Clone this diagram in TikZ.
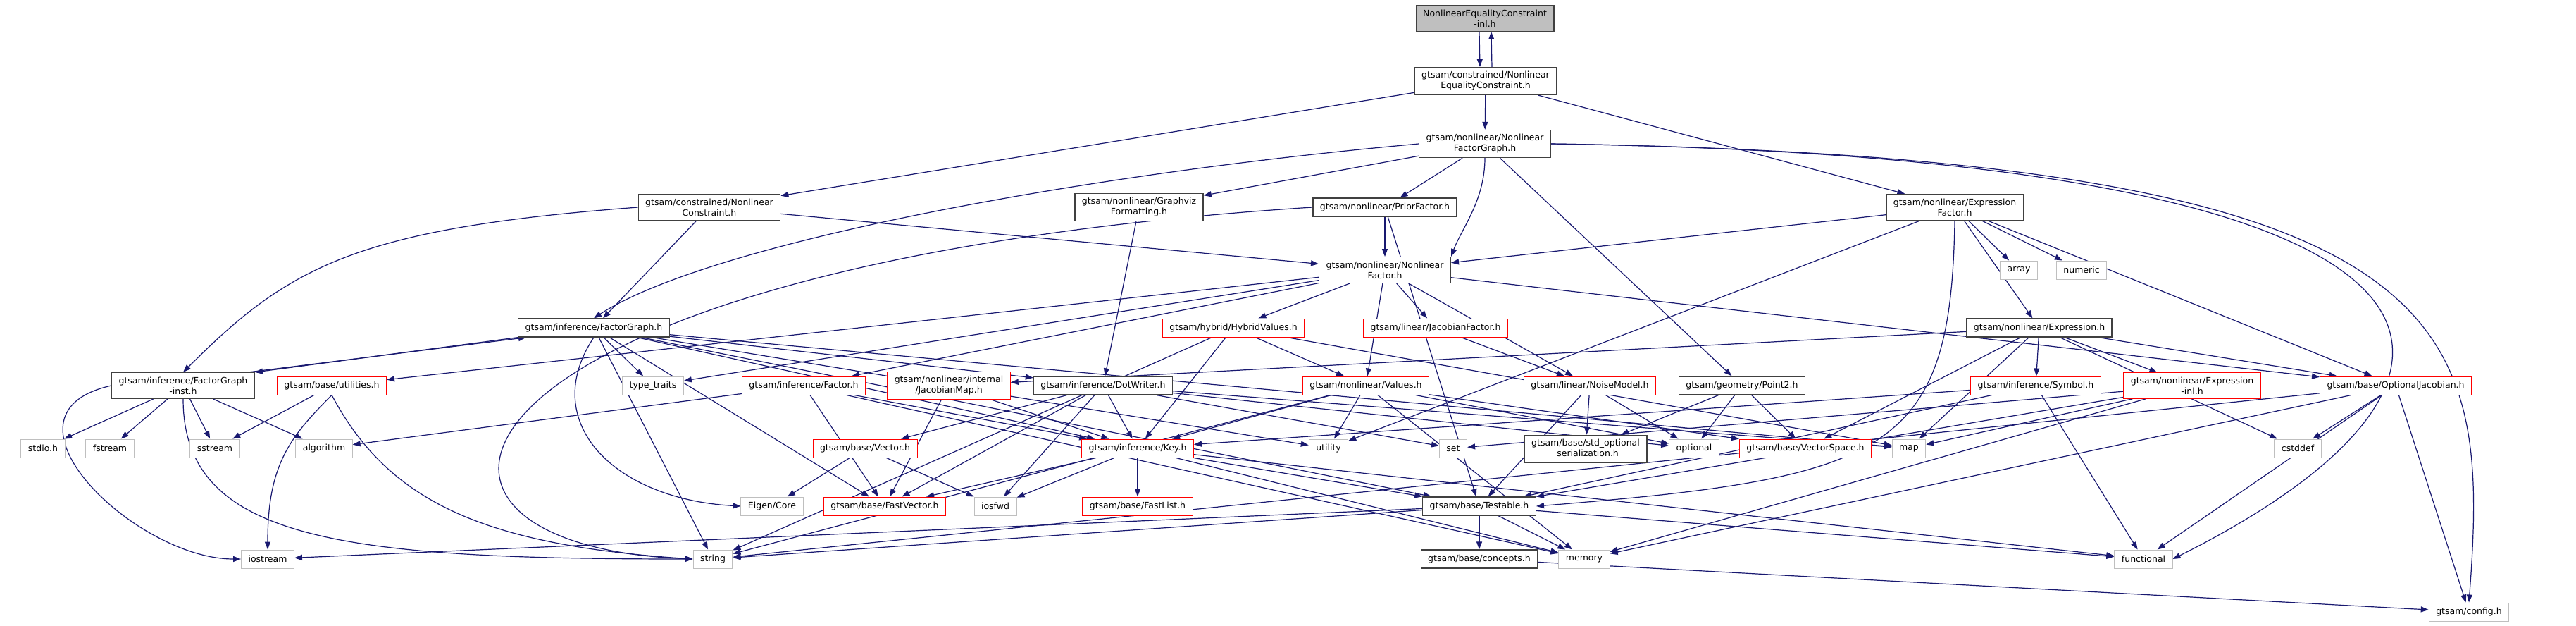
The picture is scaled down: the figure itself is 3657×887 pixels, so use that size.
\documentclass[tikz,border=0pt]{standalone}
\usepackage{fontspec}
\setmainfont{DejaVu Sans}
\usetikzlibrary{arrows.meta,backgrounds}
\definecolor{edgeblue}{HTML}{191970}
\definecolor{boxblack}{HTML}{404040}
\definecolor{boxgray}{HTML}{BFBFBF}
\definecolor{boxred}{HTML}{FF0000}
\tikzset{
  file/.style={draw=boxblack, fill=white, line width=1.3pt, inner xsep=10pt, inner ysep=6pt,
    minimum height=26pt, align=center, font=\fontsize{12.5}{15}\selectfont},
  trunc/.style={file, draw=boxred, line width=1pt},
  sys/.style={file, draw=boxgray, line width=1pt},
  focus/.style={file, fill=boxgray},
  dep/.style={draw=edgeblue, line width=1.2pt, -{Triangle[length=11pt,width=8pt]}}
}
\begin{document}
\begin{tikzpicture}[x=1pt, y=-1pt]
    \useasboundingbox (0,0) rectangle (3657,887);

    % Draw the file itself and its direct includes
    \node[focus] (root) at (2108, 26) {NonlinearEqualityConstraint\\-inl.h};
    \node[file] (nech) at (2109, 115) {gtsam/constrained/Nonlinear\\EqualityConstraint.h};
    \node[file] (nlfg) at (2108, 204) {gtsam/nonlinear/Nonlinear\\FactorGraph.h};

    % Draw nodes for the third row
    \node[file] (nc) at (1007, 294) {gtsam/constrained/Nonlinear\\Constraint.h};
    \node[file] (gviz) at (1617, 294) {gtsam/nonlinear/Graphviz\\Formatting.h};
    \node[file] (prior) at (1966, 294) {gtsam/nonlinear/PriorFactor.h};
    \node[file] (exprf) at (2775, 294) {gtsam/nonlinear/Expression\\Factor.h};
    \node[file] (nlf) at (1966, 383) {gtsam/nonlinear/Nonlinear\\Factor.h};
    \node[sys] (array) at (2866, 383) {array};
    \node[sys] (numeric) at (2955, 383) {numeric};

    % Draw nodes for the middle rows
    \node[file] (fg) at (843, 465) {gtsam/inference/FactorGraph.h};
    \node[trunc] (hybv) at (1751, 465) {gtsam/hybrid/HybridValues.h};
    \node[trunc] (jacf) at (2038, 465) {gtsam/linear/JacobianFactor.h};
    \node[file] (expr) at (2895, 465) {gtsam/nonlinear/Expression.h};

    \node[file] (fginst) at (260, 547) {gtsam/inference/FactorGraph\\-inst.h};
    \node[trunc] (util) at (471, 547) {gtsam/base/utilities.h};
    \node[sys] (typetr) at (927, 547) {type\_traits};
    \node[trunc] (factor) at (1141, 547) {gtsam/inference/Factor.h};
    \node[trunc] (jmap) at (1347, 547) {gtsam/nonlinear/internal\\/JacobianMap.h};
    \node[file] (dotw) at (1566, 547) {gtsam/inference/DotWriter.h};
    \node[trunc] (values) at (1939, 547) {gtsam/nonlinear/Values.h};
    \node[trunc] (noise) at (2257, 547) {gtsam/linear/NoiseModel.h};
    \node[file] (pt2) at (2473, 547) {gtsam/geometry/Point2.h};
    \node[trunc] (symbol) at (2890, 547) {gtsam/inference/Symbol.h};
    \node[trunc] (exprinl) at (3112, 547) {gtsam/nonlinear/Expression\\-inl.h};
    \node[trunc] (optjac) at (3401, 547) {gtsam/base/OptionalJacobian.h};

    % Draw nodes for the lower rows
    \node[sys] (stdio) at (61, 636) {stdio.h};
    \node[sys] (fstream) at (156, 636) {fstream};
    \node[sys] (sstream) at (305, 636) {sstream};
    \node[sys] (algo) at (460, 636) {algorithm};
    \node[trunc] (vector) at (1228, 636) {gtsam/base/Vector.h};
    \node[trunc] (key) at (1615, 636) {gtsam/inference/Key.h};
    \node[sys] (utility) at (1886, 636) {utility};
    \node[sys] (set) at (2063, 636) {set};
    \node[file] (stdopt) at (2251, 637) {gtsam/base/std\_optional\\\_serialization.h};
    \node[sys] (optional) at (2405, 636) {optional};
    \node[trunc] (vspace) at (2563, 636) {gtsam/base/VectorSpace.h};
    \node[sys] (map) at (2710, 636) {map};
    \node[sys] (cstddef) at (3262, 636) {cstddef};

    \node[sys] (eigen) at (1096, 718) {Eigen/Core};
    \node[trunc] (fastvec) at (1256, 718) {gtsam/base/FastVector.h};
    \node[sys] (iosfwd) at (1413, 718) {iosfwd};
    \node[trunc] (fastlist) at (1615, 718) {gtsam/base/FastList.h};
    \node[file] (testable) at (2100, 718) {gtsam/base/Testable.h};

    \node[sys] (iostream) at (380, 793) {iostream};
    \node[sys] (string) at (1012, 793) {string};
    \node[file] (concepts) at (2100, 793) {gtsam/base/concepts.h};
    \node[sys] (memory) at (2249, 793) {memory};
    \node[sys] (functional) at (3043, 793) {functional};
    \node[sys] (config) at (3505, 868) {gtsam/config.h};

    \begin{pgfonlayer}{background}
    % Draw edges from the top files
    \draw[dep] ([xshift=-8pt]root.south) -- ([xshift=-8pt]nech.north);
    \draw[dep] ([xshift=9pt]nech.north) -- ([xshift=9pt]root.south);
    \draw[dep] (nech) -- (nc);
    \draw[dep] (nech) -- (nlfg);
    \draw[dep] (nech) -- (exprf);
    \draw[dep] (nlfg.west) .. controls +(-511,46) and +(157,-102) .. (fg.north);
    \draw[dep] (nlfg) -- (gviz);
    \draw[dep] (nlfg) -- (prior);
    \draw[dep] (nlfg.south) .. controls +(0,60) and +(15,-40) .. (nlf.north east);
    \draw[dep] (nlfg) -- (pt2);
    \draw[dep] (nlfg.east) .. controls +(1400,20) and +(500,-250) .. (functional.east);
    \draw[dep] (nlfg.east) .. controls +(1300,20) and +(30,-400) .. (config.north);

    % Draw edges of the third row
    \draw[dep] (nc) -- (fg);
    \draw[dep] (nc.west) .. controls +(-400,30) and +(150,-150) .. (fginst.north);
    \draw[dep] (nc) -- (nlf);
    \draw[dep] (gviz) -- (dotw);
    \draw[dep] (prior) -- (nlf);
    \draw[dep] (prior.west) .. controls +(-1250,80) and +(-500,-20) .. (string.west);
    \draw[dep] (prior) -- (testable);
    \draw[dep] (exprf) -- (nlf);
    \draw[dep] (exprf) -- (expr);
    \draw[dep] (exprf) -- (array);
    \draw[dep] (exprf) -- (numeric);
    \draw[dep] (exprf) -- (utility);
    \draw[dep] (exprf.south) .. controls +(-5,330) and +(500,-40) .. (testable.east);
    \draw[dep] (exprf) -- (optjac);
    \draw[dep] (nlf) -- (factor);
    \draw[dep] (nlf) -- (util);
    \draw[dep] (nlf) -- (typetr);
    \draw[dep] (nlf) -- (hybv);
    \draw[dep] (nlf) -- (values);
    \draw[dep] (nlf) -- (jacf);
    \draw[dep] (nlf) -- (noise);
    \draw[dep] (nlf) -- (optjac);

    % Draw edges of the middle rows
    \draw[dep] (fg.south west) -- (fginst.north east);
    \draw[dep] ([xshift=-10pt]fginst.north east) -- ([xshift=12pt]fg.south west);
    \draw[dep] (fg) -- (typetr);
    \draw[dep] (fg) -- (dotw);
    \draw[dep] (fg) -- (key);
    \draw[dep] (fg) -- (fastvec);
    \draw[dep] (fg) -- (testable);
    \draw[dep] (fg.south) .. controls +(-80,120) and +(-180,-10) .. (eigen.west);
    \draw[dep] (fg) -- (string);
    \draw[dep] (fg) -- (utility);
    \draw[dep] (fg) -- (map);
    \draw[dep] (hybv) -- (values);
    \draw[dep] (hybv) -- (key);
    \draw[dep] (hybv) -- (map);
    \draw[dep] (hybv) -- (string);
    \draw[dep] (jacf) -- (noise);
    \draw[dep] (expr) -- (symbol);
    \draw[dep] (expr) -- (exprinl);
    \draw[dep] (expr) -- (optjac);
    \draw[dep] (expr) -- (cstddef);
    \draw[dep] (expr) -- (map);
    \draw[dep] (expr) -- (vspace);
    \draw[dep] (expr) -- (jmap);

    \draw[dep] (fginst) -- (stdio);
    \draw[dep] (fginst) -- (fstream);
    \draw[dep] (fginst) -- (sstream);
    \draw[dep] (fginst) -- (algo);
    \draw[dep] (fginst.west) .. controls +(-180,40) and +(-150,0) .. (iostream.west);
    \draw[dep] (fginst.south) .. controls +(0,200) and +(-500,0) .. (string.west);
    \draw[dep] (util) -- (sstream);
    \draw[dep] (util.south) .. controls +(-60,60) and +(0,-120) .. (iostream.north);
    \draw[dep] (util.south) .. controls +(80,150) and +(-300,-20) .. (string.west);
    \draw[dep] (factor) -- (algo);
    \draw[dep] (factor) -- (key);
    \draw[dep] (factor) -- (fastvec);
    \draw[dep] (factor) -- (memory);
    \draw[dep] (jmap) -- (key);
    \draw[dep] (jmap) -- (fastvec);
    \draw[dep] (dotw) -- (vector);
    \draw[dep] (dotw) -- (key);
    \draw[dep] (dotw) -- (fastvec);
    \draw[dep] (dotw) -- (iosfwd);
    \draw[dep] (dotw) -- (set);
    \draw[dep] (dotw) -- (optional);
    \draw[dep] (dotw) -- (map);
    \draw[dep] (values) -- (key);
    \draw[dep] (values) -- (utility);
    \draw[dep] (values) -- (string);
    \draw[dep] (values) -- (memory);
    \draw[dep] (values) -- (optional);
    \draw[dep] (values) -- (vspace);
    \draw[dep] (noise) -- (testable);
    \draw[dep] (noise) -- (stdopt);
    \draw[dep] (noise) -- (optional);
    \draw[dep] (pt2) -- (stdopt);
    \draw[dep] (pt2) -- (optional);
    \draw[dep] (pt2) -- (vspace);
    \draw[dep] (symbol) -- (key);
    \draw[dep] (symbol) -- (functional);
    \draw[dep] (symbol) -- (testable);
    \draw[dep] (exprinl) -- (map);
    \draw[dep] (exprinl) -- (memory);
    \draw[dep] (exprinl) -- (set);
    \draw[dep] (exprinl) -- (testable);
    \draw[dep] (optjac) -- (cstddef);
    \draw[dep] (optjac) -- (functional);
    \draw[dep] (optjac) -- (config);
    \draw[dep] (optjac) -- (memory);
    \draw[dep] (optjac) -- (string);

    % Draw edges of the lower rows
    \draw[dep] (vector) -- (eigen);
    \draw[dep] (vector) -- (iosfwd);
    \draw[dep] (key) -- (fastvec);
    \draw[dep] (key) -- (iosfwd);
    \draw[dep] (key) -- (fastlist);
    \draw[dep] (key) -- (testable);
    \draw[dep] (key) -- (memory);
    \draw[dep] (key) -- (functional);
    \draw[dep] (testable) -- (concepts);
    \draw[dep] (testable) -- (memory);
    \draw[dep] (testable) -- (functional);
    \draw[dep] (testable) -- (iostream);
    \draw[dep] (testable) -- (string);
    \draw[dep] (concepts) -- (config);
    \end{pgfonlayer}
\end{tikzpicture}
\end{document}
